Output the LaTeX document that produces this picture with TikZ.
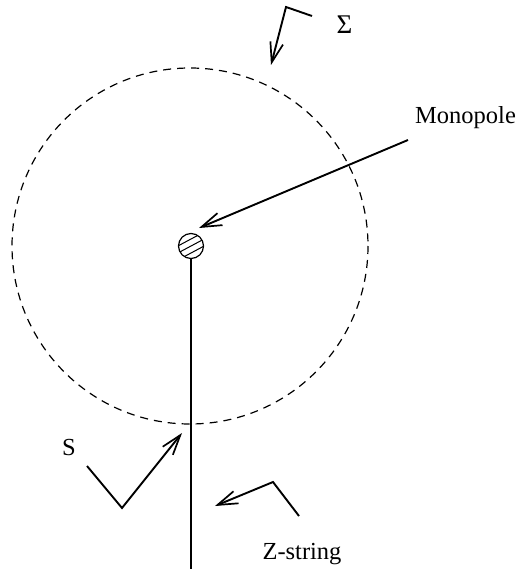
\documentclass[tikz,border=0pt]{standalone}
\usepackage{fontspec}
\setmainfont{Liberation Serif}
\usetikzlibrary{arrows.meta,patterns}
\begin{document}
\begin{tikzpicture}[x=1pt,y=-1pt,
  line/.style={line width=1.9pt},
  arr/.style={line width=1.9pt,-{Straight Barb[length=20pt,width=13pt,line width=1.7pt]}},
  lbl/.style={font=\fontsize{24.5}{28}\selectfont,inner sep=0pt}]
\useasboundingbox (0,0) rectangle (519,569);
% dashed circle Sigma
\draw[line width=1.2pt,dash pattern=on 8pt off 6pt] (190,246) circle[radius=178];
% monopole ball
\node[circle,draw,line width=1.2pt,minimum size=25pt,inner sep=0pt,
  path picture={\foreach \d in {-7,0,7} \draw[line width=1pt] ([shift={(-15,\d+8)}]path picture bounding box.center) -- ++(30,-16);}] (ball) at (191,246) {};
\coordinate (bot) at (191,569);
\draw[line] (ball.south) -- (bot);
% monopole arrow
\coordinate (m0) at (408,140);
\coordinate (m1) at (199,228);
\draw[arr] (m0) -- (m1);
\node[lbl,anchor=base west] (mono) at (415,124) {Monopole};
% Sigma arrow
\coordinate (s0) at (312,16);
\coordinate (s1) at (286,7);
\coordinate (s2) at (271,65);
\draw[arr] (s0) -- (s1) -- (s2);
\node[lbl,font=\fontsize{27}{30}\selectfont] (sig) at (344.5,24.5) {Σ};
% S arrow
\coordinate (a0) at (87,466);
\coordinate (a1) at (122,508);
\coordinate (a2) at (182,433);
\draw[arr] (a0) -- (a1) -- (a2);
\node[lbl] (S) at (69,448) {S};
% Z-string arrow
\coordinate (z0) at (299,516);
\coordinate (z1) at (273,482);
\coordinate (z2) at (215,506);
\draw[arr] (z0) -- (z1) -- (z2);
\node[lbl,anchor=base] (zs) at (302,559) {Z-string};
\end{tikzpicture}
\end{document}
